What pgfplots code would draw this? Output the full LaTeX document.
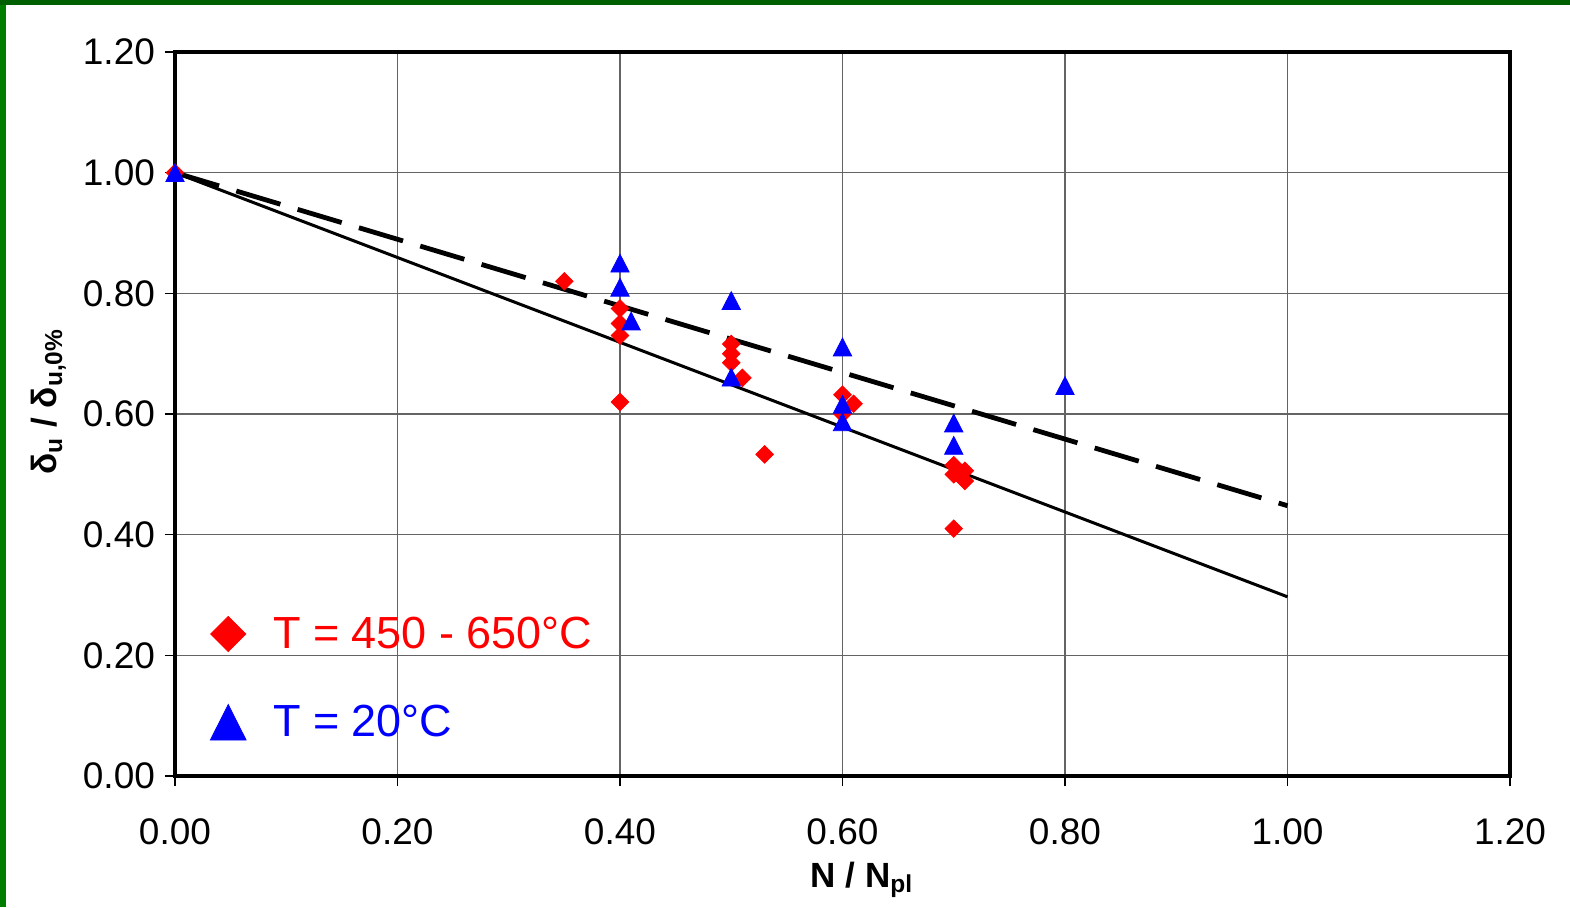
\documentclass[border=0pt]{standalone}
\usepackage{pgfplots}
\pgfplotsset{compat=1.18}
\usepackage{fontspec}
\setmainfont{Liberation Sans}

\definecolor{gridgray}{RGB}{100,100,100}
\definecolor{topgreen}{RGB}{0,95,0}
\definecolor{sidegreen}{RGB}{0,125,0}
\definecolor{mred}{RGB}{255,0,0}
\definecolor{mblue}{RGB}{0,0,255}

\begin{document}
\begin{tikzpicture}
% page frame with the green edges on top and left
\path[use as bounding box, fill=white] (-87.5pt,-65.5pt) rectangle (697.5pt,388pt);
\fill[sidegreen] (-87.5pt,-65.5pt) rectangle (-84.5pt,388pt);
\fill[topgreen] (-87.5pt,385.5pt) rectangle (697.5pt,388pt);
\begin{axis}[
  at={(0,0)}, anchor=south west,
  scale only axis, width=667.5pt, height=362pt,
  xmin=0, xmax=1.2, ymin=0, ymax=1.2,
  xtick={0,0.2,0.4,0.6,0.8,1.0,1.2},
  ytick={0,0.2,0.4,0.6,0.8,1.0,1.2},
  grid=major,
  major grid style={gridgray, line width=0.6pt},
  axis line style={line width=1.6pt},
  tick pos=left, tick align=outside,
  major tick length=5pt,
  tick style={black, line width=0.6pt},
  /pgf/number format/.cd, fixed, fixed zerofill, precision=2, assume math mode=true,
  /pgfplots/.cd,
  ticklabel style={font=\fontsize{18.5}{21}\selectfont},
  xticklabel style={yshift=-13pt},
  yticklabel style={xshift=-1.5pt},
  xlabel={\textbf{N / N\textsubscript{pl}}},
  ylabel={\textbf{δ\textsubscript{u} / δ\textsubscript{u,0\%}}},
  label style={font=\fontsize{17.5}{20}\selectfont},
  x label style={at={(axis description cs:0.5,0)}, anchor=base, xshift=9.75pt, yshift=-55.5pt},
  y label style={at={(axis description cs:0,0.5)}, anchor=base, xshift=6.25pt, yshift=59pt},
  legend style={at={(axis description cs:0,0)}, anchor=south west,
    xshift=17.5pt, yshift=16pt,
    draw=none, fill=none, inner sep=0pt,
    font=\fontsize{22.5}{26}\selectfont,
    row sep=23pt, column sep=11.5pt},
  legend cell align=left,
]
% T = 450 - 650 C
\addplot[only marks, color=mred, mark=square*, mark size=3.1pt,
  mark options={rotate=45},
  legend image code/.code={\draw[mred, fill=mred, only marks, mark=square*, mark size=6.2pt, mark options={rotate=45}] plot coordinates {(0.3cm,0cm)};}]
  coordinates {
  (0.00,1.000) (0.35,0.820)
  (0.40,0.775) (0.40,0.750) (0.40,0.730) (0.40,0.620)
  (0.50,0.716) (0.50,0.700) (0.50,0.685) (0.51,0.660) (0.53,0.533)
  (0.60,0.632) (0.61,0.617) (0.60,0.600)
  (0.70,0.515) (0.70,0.500) (0.71,0.506) (0.71,0.489) (0.70,0.410)
  };
\addlegendentry{\textcolor{mred}{T = 450 - 650°C}}
% T = 20 C
\addplot[only marks, color=mblue, mark=triangle*, mark size=5.3pt,
  mark options={yshift=-1.48pt, yscale=1.12},
  legend image code/.code={\draw[mblue, fill=mblue, only marks, mark=triangle*, mark size=10.3pt, mark options={yshift=-2.9pt, yscale=1.146}] plot coordinates {(0.3cm,0cm)};}]
  coordinates {
  (0.00,1.000)
  (0.40,0.850) (0.40,0.810) (0.41,0.754)
  (0.50,0.788) (0.50,0.661)
  (0.60,0.711) (0.60,0.616) (0.60,0.587)
  (0.70,0.585) (0.70,0.548)
  (0.80,0.647)
  };
\addlegendentry{\textcolor{mblue}{T = 20°C}}
% linear trends
\addplot[forget plot, black, line width=1.5pt] coordinates {(0,1.0) (1.0,0.297)};
\addplot[forget plot, black, line width=2.4pt, dash pattern=on 23pt off 9pt] coordinates {(0,1.0) (1.0,0.448)};
\end{axis}
\end{tikzpicture}
\end{document}
